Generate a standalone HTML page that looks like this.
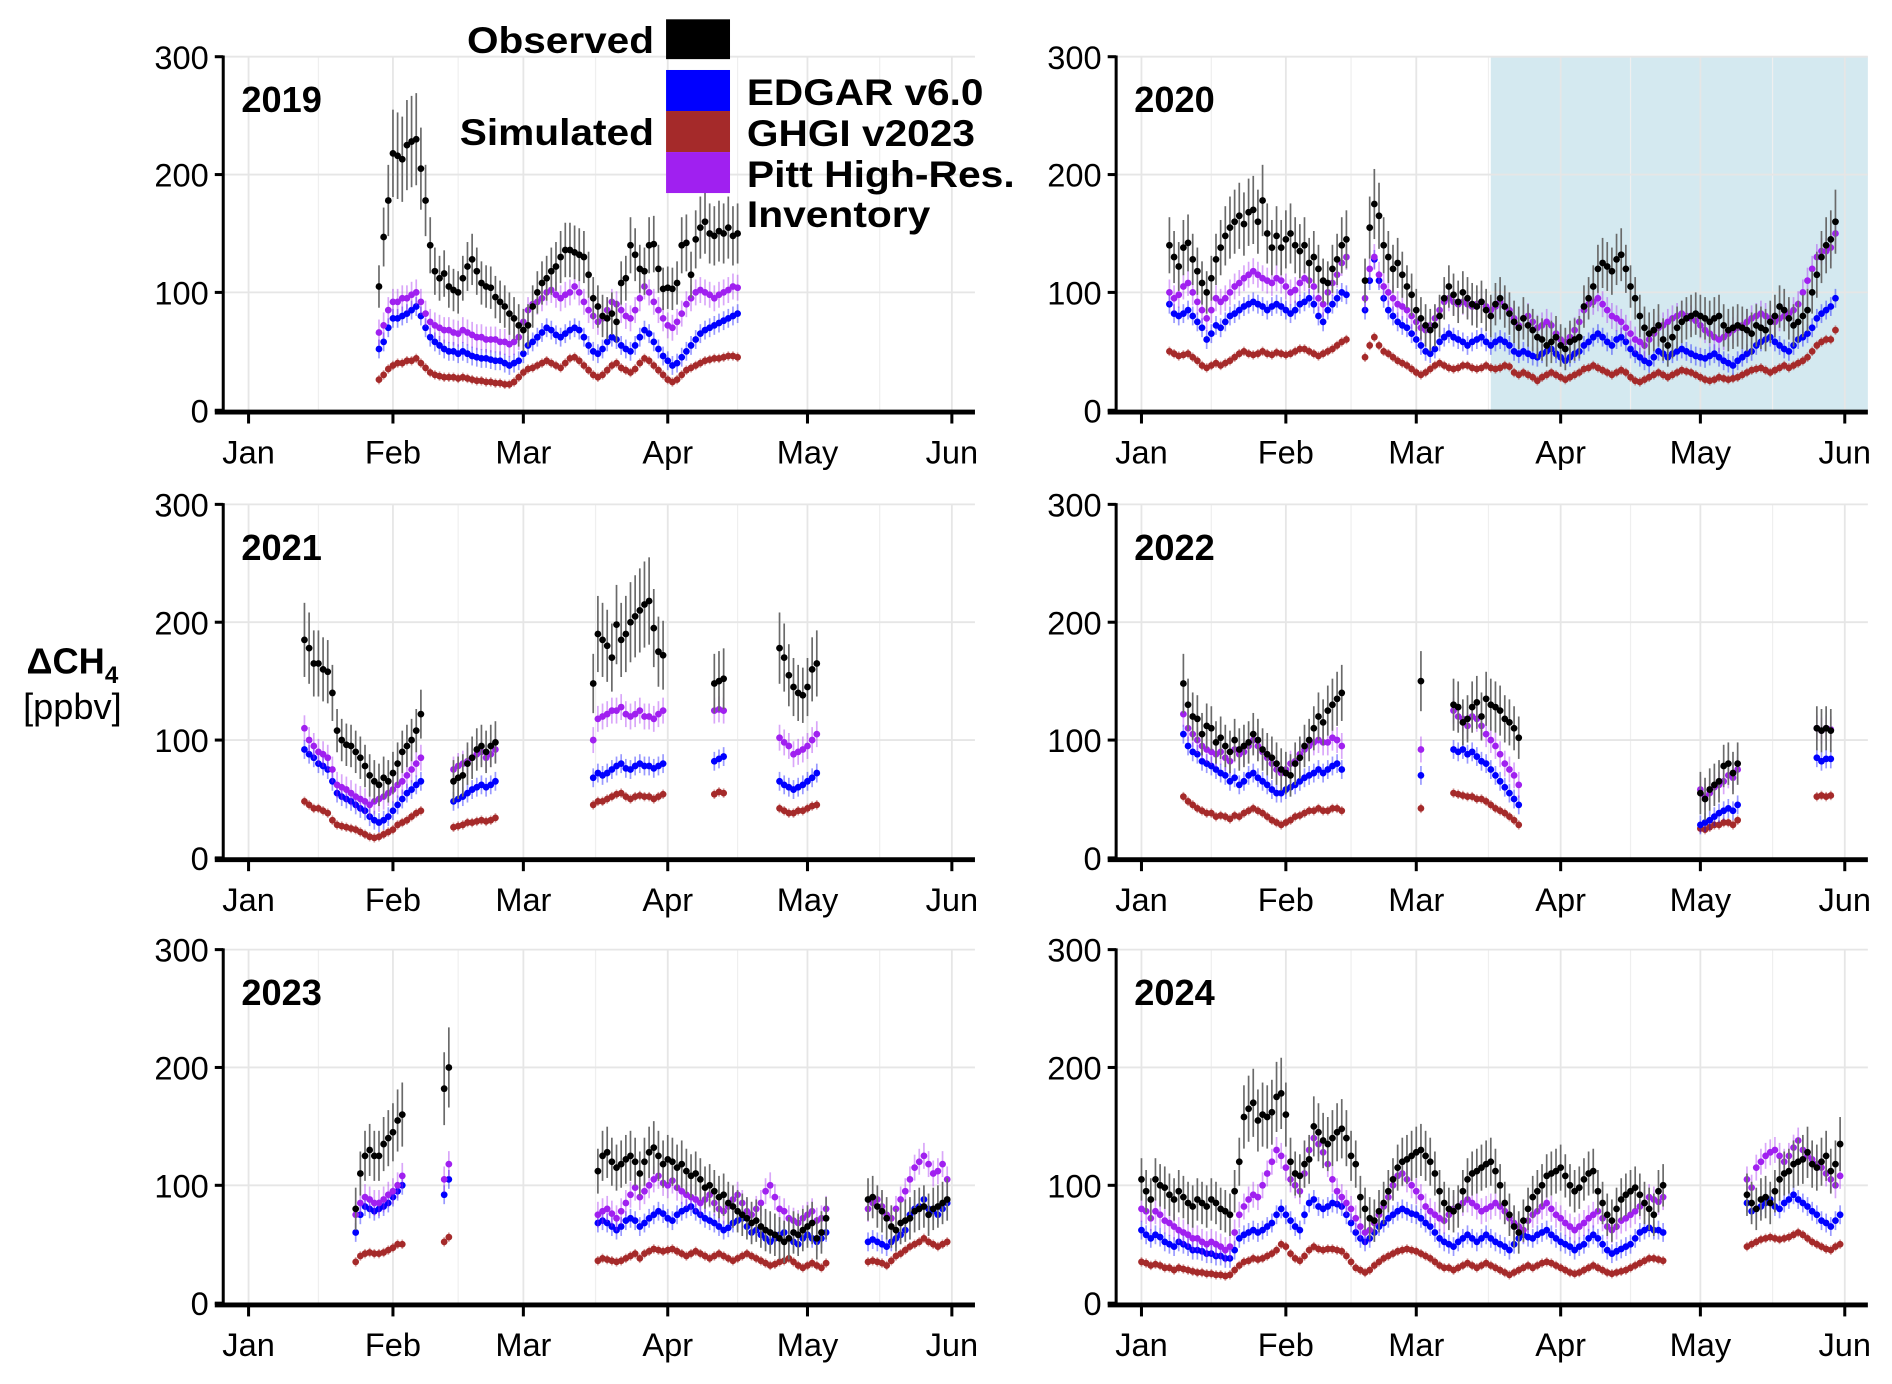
<!DOCTYPE html>
<html><head><meta charset="utf-8">
<style>
html,body{margin:0;padding:0;background:#fff;}
svg{display:block;font-family:"Liberation Sans",Arial,sans-serif;}
</style></head>
<body>
<svg id="chart" width="1892" height="1384" viewBox="0 0 1568 1147" preserveAspectRatio="none" xmlns="http://www.w3.org/2000/svg">
  <g id="grid"></g>
  <g id="marks"></g>
  <g id="axes"></g>
  <g id="legend">
    <text x="542" y="44" text-anchor="end" font-size="31" font-weight="bold" textLength="155" lengthAdjust="spacingAndGlyphs">Observed</text>
    <rect x="552" y="16" width="53" height="33" fill="#000"/>
    <text x="542" y="120" text-anchor="end" font-size="31" font-weight="bold" textLength="161" lengthAdjust="spacingAndGlyphs">Simulated</text>
    <rect x="552" y="58" width="53" height="34" fill="#0000ff"/>
    <rect x="552" y="92" width="53" height="34" fill="#a52a2a"/>
    <rect x="552" y="126" width="53" height="34" fill="#a020f0"/>
    <text x="619" y="87" font-size="31" font-weight="bold" textLength="196" lengthAdjust="spacingAndGlyphs">EDGAR v6.0</text>
    <text x="619" y="121" font-size="31" font-weight="bold" textLength="189" lengthAdjust="spacingAndGlyphs">GHGI v2023</text>
    <text x="619" y="155" font-size="31" font-weight="bold" textLength="222" lengthAdjust="spacingAndGlyphs">Pitt High-Res.</text>
    <text x="619" y="188" font-size="31" font-weight="bold" textLength="152" lengthAdjust="spacingAndGlyphs">Inventory</text>
  </g>
  <text x="60" y="558" text-anchor="middle" font-size="30" font-weight="bold">ΔCH<tspan font-size="20" dy="8">4</tspan></text>
  <text x="60" y="596" text-anchor="middle" font-size="30">[ppbv]</text>
</svg>
<script>
// ---------- data ----------
const years = [2019, 2020, 2021, 2022, 2023, 2024];
const monthLabels = ["Jan","Feb","Mar","Apr","May","Jun"];
const monthDays = [0,31,59,90,120,151];
const minorDays = [15,45,74.5,105,135.5];
const yTicks = [0,100,200,300];
const shade2020 = [75,155];

const seg2019a = {year:2019,start:28,
 obs:[105,147,178,218,216,213,225,228,230,205,178,140,118,112,116,105,102,100,112,122,128,118,108,105,104,96,92,88,82,78,72,68,72,88,100,108,112,118,122,130,136,136,134,132,130,115,95,88,80,78,82,75,108,112,140,132,120,118,140,141,120,103,104,103,108,140,142,115,145,155,160,150,148,152,150,155,148,150],
 edgar:[52,58,70,78,78,80,82,85,88,80,70,62,58,55,52,50,50,48,50,48,46,45,44,44,43,42,42,40,38,40,42,48,55,58,62,66,70,68,64,62,65,68,70,68,62,55,50,48,52,58,62,60,55,52,50,55,62,68,65,58,52,46,42,38,40,45,50,55,60,65,68,70,72,74,76,78,80,82],
 ghgi:[26,30,35,38,40,40,42,42,44,40,36,32,30,29,28,28,28,27,28,27,26,25,25,24,24,23,23,22,22,24,28,32,35,36,38,40,42,40,38,36,40,44,45,42,38,34,30,28,30,34,38,40,36,34,32,35,40,44,42,38,34,30,26,24,26,30,34,36,38,40,42,43,44,44,45,46,46,45],
 pitt:[66,72,85,92,92,95,95,98,100,92,82,75,72,70,68,68,66,65,68,66,64,62,62,60,60,60,58,58,56,58,62,75,85,90,92,95,100,102,98,95,98,100,105,100,92,85,80,75,78,85,92,90,85,80,78,85,95,105,100,92,85,78,72,70,75,82,90,95,100,102,100,98,95,98,100,102,105,104]};

const seg2020a = {year:2020,start:6,
 obs:[140,130,122,138,142,128,118,108,100,112,128,138,148,155,160,165,158,168,170,160,178,150,138,148,138,145,150,140,135,140,125,130,120,110,108,120,128,140,145],
 edgar:[90,82,80,82,85,80,75,70,60,65,72,70,75,80,82,85,88,90,92,90,88,85,88,90,88,85,82,85,90,92,95,90,80,75,85,90,95,100,98],
 ghgi:[50,48,46,47,48,45,42,38,36,38,40,38,40,42,45,48,50,48,47,48,50,48,47,49,48,47,48,50,52,52,50,48,46,48,50,52,55,58,60],
 pitt:[100,95,98,105,108,100,92,85,78,85,95,92,95,100,105,108,112,115,118,115,112,110,108,112,110,105,100,102,108,112,110,105,95,90,100,108,115,125,130]};
const seg2020b = {year:2020,start:48,
 obs:[110,155,175,165,140,130,120,125,115,105,98,85,78,72,68,72,80,95,105,98,92,100,95,90,88,92,85,80,90,95,88,82,75],
 edgar:[85,110,128,110,95,85,80,75,72,70,65,60,55,50,48,52,58,62,65,62,60,58,55,58,60,62,58,55,58,60,58,55,50],
 ghgi:[45,55,62,55,50,48,45,42,40,38,35,32,30,32,35,38,40,38,36,35,36,38,38,36,35,36,38,36,35,36,38,37,32],
 pitt:[95,120,130,115,105,100,95,90,88,85,80,75,70,68,72,78,85,92,95,92,90,92,90,88,90,92,88,85,88,92,88,85,78]};
const seg2020c = {year:2020,start:81,
 obs:[70,78,72,68,62,60,55,58,62,55,52,58,60,62,88,95,105,120,125,122,118,128,132,120,105,95,80,70,65,68,72,60,55,62,70,75,78,80,82,80,78,75,78,80,72,68,70,72,70,68,65,72,70,68,75,80,88,85,78,72,75,80,85,100,115,130,140,145,160],
 edgar:[48,50,48,46,45,48,50,52,48,45,42,45,48,50,55,58,62,65,62,58,55,60,62,58,52,48,45,42,40,45,50,48,45,48,50,52,50,48,46,45,44,46,48,45,42,40,38,42,45,48,50,55,58,60,62,58,55,52,50,55,60,62,65,70,78,82,85,88,95],
 ghgi:[30,32,30,28,25,28,30,32,30,28,26,28,30,32,35,36,38,36,34,32,30,32,34,32,28,25,24,26,28,30,32,30,28,30,32,34,33,32,30,28,26,25,26,28,27,26,27,28,30,32,34,35,36,34,32,34,36,38,36,38,40,42,45,50,55,58,60,60,68],
 pitt:[72,78,80,75,70,72,75,72,65,60,58,62,68,75,85,90,92,95,90,85,80,78,75,70,65,60,58,55,60,65,70,72,75,78,80,82,80,78,76,72,68,65,62,60,62,65,68,70,72,75,78,80,82,80,78,75,78,80,82,85,90,100,110,120,130,135,135,138,150]};

const seg2021a = {year:2021,start:12,
 obs:[185,178,165,165,160,158,140,108,100,96,95,90,85,78,70,65,62,68,65,72,80,90,95,100,108,122],
 edgar:[92,88,85,80,78,75,65,55,52,50,48,45,42,40,35,32,30,32,35,40,45,50,55,58,62,65],
 ghgi:[48,45,42,42,40,38,32,28,27,26,25,24,22,20,18,17,18,20,22,24,28,30,32,35,38,40],
 pitt:[110,100,95,90,88,85,75,62,60,58,55,52,50,48,45,48,50,52,55,58,62,65,70,75,80,85]};
const seg2021b = {year:2021,start:44,
 obs:[65,68,70,80,85,92,95,90,95,98],
 edgar:[48,50,52,55,58,60,62,60,62,65],
 ghgi:[26,27,28,30,30,31,32,31,32,34],
 pitt:[75,78,80,82,85,88,90,85,88,92]};
const seg2021c = {year:2021,start:74,
 obs:[148,190,185,180,170,198,185,190,200,205,210,215,218,195,175,172],
 edgar:[68,72,70,72,75,78,80,76,75,78,80,78,78,76,78,80],
 ghgi:[45,48,48,50,52,54,55,52,50,52,53,52,52,50,52,54],
 pitt:[100,118,120,122,125,125,128,122,120,122,125,120,120,118,122,125]};
const seg2021d = {year:2021,start:100,obs:[148,150,152],edgar:[82,84,86],ghgi:[54,56,55],pitt:[125,126,125]};
const seg2021e = {year:2021,start:114,
 obs:[178,170,155,145,140,138,145,160,165],
 edgar:[65,62,60,58,60,62,65,68,72],
 ghgi:[42,40,38,38,40,40,42,44,45],
 pitt:[102,98,95,88,90,92,95,100,105]};

const seg2022a = {year:2022,start:9,
 obs:[148,130,120,118,105,112,110,98,102,95,90,100,92,95,98,105,100,92,88,85,80,75,72,70,80,85,95,100,110,120,115,125,130,135,140],
 edgar:[105,95,90,88,82,80,78,75,72,70,65,68,62,65,70,72,68,65,62,58,55,55,58,60,62,65,68,70,72,75,72,75,78,80,75],
 ghgi:[52,48,45,42,40,38,38,35,36,35,33,36,35,38,40,42,40,38,35,32,30,28,30,32,35,36,38,40,40,42,40,40,42,42,40],
 pitt:[122,110,105,100,95,92,90,88,90,85,82,92,88,90,95,100,95,90,85,80,75,72,75,80,82,88,92,95,98,100,98,98,102,100,95]};
const seg2022b = {year:2022,start:60,obs:[150],edgar:[70],ghgi:[42],pitt:[92]};
const seg2022c = {year:2022,start:67,
 obs:[130,128,115,118,128,132,120,135,130,128,125,118,115,110,102],
 edgar:[92,90,92,88,90,86,82,80,75,70,65,60,55,50,45],
 ghgi:[55,54,53,52,52,50,50,48,45,42,40,38,35,32,28],
 pitt:[125,120,118,112,120,118,112,105,100,95,88,80,75,70,62]};
const seg2022d = {year:2022,start:120,
 obs:[55,50,58,62,65,78,80,72,80],
 edgar:[28,30,32,35,38,40,42,40,45],
 ghgi:[25,24,26,28,28,30,30,28,32],
 pitt:[58,52,55,60,62,65,70,68,75]};
const seg2022e = {year:2022,start:145,obs:[110,108,110,108],edgar:[85,82,84,84],ghgi:[52,53,52,53],pitt:[110,108,110,109]};

const seg2023a = {year:2023,start:23,
 obs:[80,110,125,130,125,125,135,140,145,155,160],
 edgar:[60,75,82,80,78,80,82,85,90,95,100],
 ghgi:[35,40,42,43,42,42,43,45,47,50,50],
 pitt:[75,85,90,88,85,85,88,92,95,100,108]};
const seg2023b = {year:2023,start:42,obs:[182,200],edgar:[92,105],ghgi:[52,56],pitt:[105,118]};
const seg2023c = {year:2023,start:75,
 obs:[112,125,128,120,115,118,122,125,120,110,120,128,132,125,118,122,120,115,118,112,108,110,105,98,100,95,90,92,85,82,78,75,72,68,70,65,62,60,58,55,52,55,60,58,62,65,68,55,60,72],
 edgar:[68,70,68,65,62,65,70,72,70,65,68,72,75,78,76,72,70,75,78,80,82,78,75,72,70,68,65,62,64,68,70,72,65,60,62,58,55,52,55,58,60,55,52,50,55,58,55,52,55,60],
 ghgi:[36,38,37,36,35,36,38,40,42,38,42,44,46,45,44,45,46,44,42,40,42,44,42,40,38,40,42,40,38,36,38,40,42,40,38,36,34,32,33,35,36,38,35,32,30,32,34,32,30,34],
 pitt:[75,78,80,76,72,78,85,92,98,90,95,100,105,108,102,100,104,98,95,92,90,88,85,88,92,85,80,78,82,88,92,85,78,75,80,85,95,100,90,80,78,72,70,68,72,75,78,70,72,80]};
const seg2023d = {year:2023,start:133,
 obs:[88,90,82,78,72,65,62,68,70,72,78,80,82,75,80,82,85,88],
 edgar:[52,54,52,50,48,52,55,58,62,75,80,82,88,80,78,75,80,85],
 ghgi:[35,36,35,34,32,36,40,42,45,48,50,52,55,52,50,48,50,52],
 pitt:[80,85,88,82,75,72,80,88,95,105,115,120,125,118,110,112,118,105]};

const seg2024a = {year:2024,start:0,
 obs:[105,95,88,105,100,98,92,88,95,90,85,82,88,85,82,88,85,80,78,75,95,120,158,165,170,155,160,158,162,175,178,160,120,110,108,118,122,150,145,138,135,140,145,148,140,125,118,90,80,72,70,78,85,95,105,115,120,122,125,128,130,125,120,110,95,85,80,78,82,95,105,110,112,115,118,120,112,100,85,75,65,60,70,80,90,95,100,108,110,112,115,108,100,95,98,105,110,112,95,85,75,70,80,88,92,95,98,92,85,80,75,95,100],
 edgar:[62,58,55,58,56,52,50,48,52,50,48,45,45,44,42,42,40,40,38,38,45,55,58,60,62,60,62,65,68,75,80,75,70,65,62,75,85,88,82,80,82,85,84,82,75,68,60,55,52,55,60,65,68,72,75,78,80,78,76,75,72,68,65,60,55,52,50,48,52,55,58,55,52,55,58,55,52,50,48,45,50,55,58,56,55,58,60,62,58,55,52,50,48,45,48,50,55,58,55,50,45,42,44,46,48,50,55,60,62,64,62,62,60],
 ghgi:[35,34,32,33,32,30,30,28,30,29,28,27,26,26,25,25,24,24,23,24,28,32,35,36,38,37,38,40,42,45,50,48,42,38,36,40,45,48,46,45,46,46,45,44,40,35,30,28,26,28,32,35,38,40,42,44,45,46,45,44,42,40,38,35,32,30,30,28,30,32,34,32,30,32,34,32,30,28,26,24,26,28,30,32,30,32,34,35,34,32,30,28,26,25,26,28,30,32,30,28,26,25,26,27,28,30,32,34,36,38,38,37,36],
 pitt:[80,78,72,78,75,70,68,65,62,60,58,55,55,52,50,52,50,48,45,48,60,75,82,88,92,90,100,110,120,130,125,115,105,100,95,110,130,140,135,128,118,105,95,90,85,80,72,65,60,62,68,75,82,90,100,108,110,105,100,95,90,82,78,75,72,70,75,80,82,85,88,85,82,78,80,82,85,82,78,72,68,65,62,70,75,78,82,85,80,75,72,68,65,62,65,68,72,75,78,72,65,62,65,70,72,75,78,82,85,90,88,86,90]};
const seg2024b = {year:2024,start:130,
 obs:[92,85,80,88,90,85,95,105,110,112,118,120,122,128,118,115,120,125,112,118,135],
 edgar:[85,78,80,82,85,88,82,80,85,88,92,88,85,82,78,75,70,68,65,70,75],
 ghgi:[48,50,52,54,55,56,55,54,55,56,58,60,58,55,52,50,48,46,45,48,50],
 pitt:[105,98,115,120,125,128,130,125,120,125,132,138,130,125,122,118,115,110,105,100,108]};

const segments = [seg2019a,seg2020a,seg2020b,seg2020c,seg2021a,seg2021b,seg2021c,seg2021d,seg2021e,
  seg2022a,seg2022b,seg2022c,seg2022d,seg2022e,seg2023a,seg2023b,seg2023c,seg2023d,seg2024a,seg2024b];

// ---------- layout ----------
const NS = "http://www.w3.org/2000/svg";
const gGrid = document.getElementById('grid');
const gMarks = document.getElementById('marks');
const gAxes = document.getElementById('axes');
function mk(tag, attrs, parent){
  const e = document.createElementNS(NS, tag);
  for (const k in attrs) e.setAttribute(k, attrs[k]);
  parent.appendChild(e);
  return e;
}
const colX = [{ax:185,x0:206,right:808},{ax:925,x0:946,right:1548}];
const rowTop = [47,418,787];
const PH = 293, PXD = 3.86;
function panelOf(year){
  const i = years.indexOf(year);
  const c = colX[i%2], top = rowTop[Math.floor(i/2)];
  return {
    ax:c.ax, right:c.right, top:top, bottom:top+PH,
    x: d => c.x0 + d*PXD,
    y: v => top + PH - v*PH/300
  };
}

years.forEach((yr,i)=>{
  const p = panelOf(yr);
  const pg = mk('g',{},gGrid);
  
  
  if (yr === 2020){
    const r = mk('rect',{x:p.x(shade2020[0]),y:p.top,width:p.right-p.x(shade2020[0]),height:PH,fill:'#d4e9f0'},pg);
    
    
  }
  minorDays.forEach(d=>{ mk('line',{x1:p.x(d),x2:p.x(d),y1:p.top,y2:p.bottom,stroke:'#efefef','stroke-width':1},pg); });
  monthDays.forEach(d=>{ mk('line',{x1:p.x(d),x2:p.x(d),y1:p.top,y2:p.bottom,stroke:'#e6e6e6','stroke-width':1.5},pg); });
  yTicks.forEach(v=>{ if(v>0) mk('line',{x1:p.ax,x2:p.right,y1:p.y(v),y2:p.y(v),stroke:'#e6e6e6','stroke-width':1.5},pg); });

  const ag = mk('g',{},gAxes);
  
  
  mk('line',{x1:p.ax,x2:p.ax,y1:p.top-1,y2:p.bottom+2,stroke:'#000','stroke-width':2.5},ag);
  mk('line',{x1:p.ax-7,x2:p.right,y1:p.bottom+1.5,y2:p.bottom+1.5,stroke:'#000','stroke-width':4},ag);
  yTicks.forEach(v=>{
    mk('line',{x1:p.ax-7,x2:p.ax,y1:p.y(v),y2:p.y(v),stroke:'#000','stroke-width':2.5},ag);
    const t = mk('text',{x:p.ax-12,y:p.y(v)+10,'text-anchor':'end','font-size':27},ag);
    
    
    t.textContent = v;
  });
  monthDays.forEach((d,j)=>{
    mk('line',{x1:p.x(d),x2:p.x(d),y1:p.bottom+3,y2:p.bottom+11,stroke:'#000','stroke-width':2.5},ag);
    const t = mk('text',{x:p.x(d),y:p.bottom+44,'text-anchor':'middle','font-size':27},ag);
    
    
    t.textContent = monthLabels[j];
  });
  const yl = mk('text',{x:p.ax+15,y:p.top+46,'font-size':30,'font-weight':'bold'},ag);
  
  
  yl.textContent = yr;
});

// ---------- marks ----------
const series = [
  {key:'ghgi', color:'#a52a2a', bar:'rgba(165,42,42,0.45)', err:4},
  {key:'edgar', color:'#0000ff', bar:'rgba(0,0,255,0.4)', err:8},
  {key:'pitt', color:'#a020f0', bar:'rgba(160,32,240,0.4)', err:11},
  {key:'obs', color:'#000000', bar:'#6a6a6a', err:25}
];
series.forEach(s=>{
  const sg = mk('g',{},gMarks);
  
  
  segments.forEach(seg=>{
    const p = panelOf(seg.year);
    seg[s.key].forEach((v,k)=>{
      if (v == null) return;
      const x = p.x(seg.start+k);
      const e = s.key==='obs' ? Math.max(18, v*0.17) : s.err;
      mk('line',{x1:x,x2:x,y1:p.y(v+e),y2:p.y(Math.max(0,v-e)),stroke:s.bar,'stroke-width':1.4},sg);
    });
  });
  segments.forEach(seg=>{
    const p = panelOf(seg.year);
    seg[s.key].forEach((v,k)=>{
      if (v == null) return;
      const c = mk('circle',{cx:p.x(seg.start+k),cy:p.y(v),r:2.8,fill:s.color},sg);
      
      
    });
  });
});
</script>
</body></html>
